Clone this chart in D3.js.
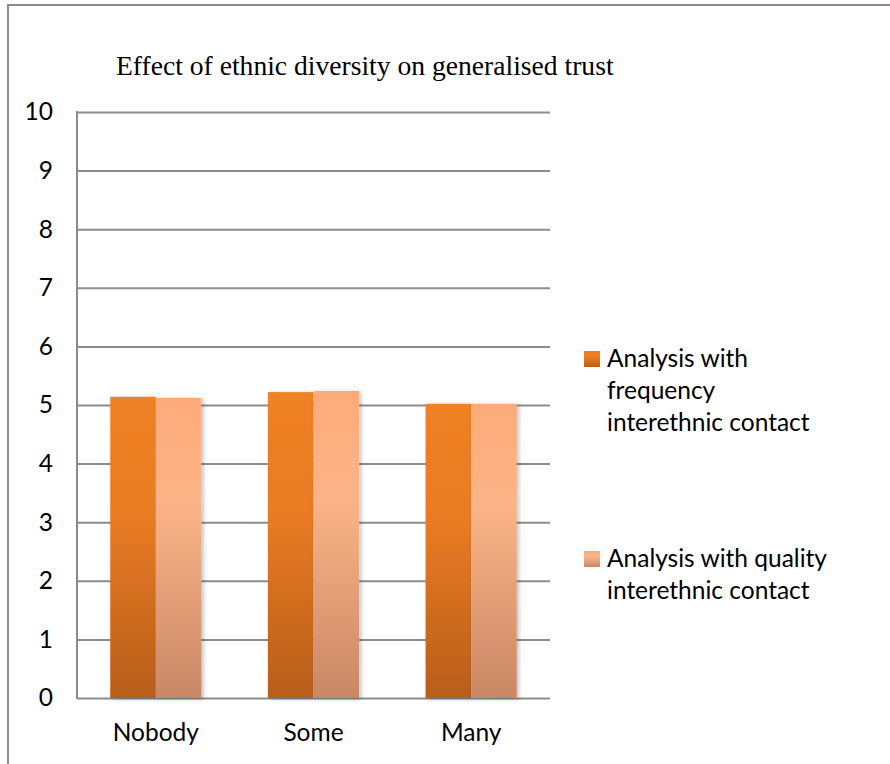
<!DOCTYPE html>
<html>
<head>
<meta charset="utf-8">
<script src="https://cdn.jsdelivr.net/npm/d3@7"></script>
<style>
  body { margin: 0; background: #fff; }
  svg { display: block; }
  .tick text { font-family: Lato, "Open Sans", sans-serif; font-size: 24.5px; fill: #000; }
  .legend text { font-family: Lato, "Open Sans", sans-serif; font-size: 24.5px; fill: #000; }
</style>
</head>
<body>
<svg id="chart"></svg>
<script>
// chart data
const categories = ["Nobody", "Some", "Many"];
const seriesNames = ["Analysis with frequency interethnic contact", "Analysis with quality interethnic contact"];
const frequencyValues = [5.14, 5.22, 5.02];
const qualityValues = [5.12, 5.24, 5.02];
const yTicks = [0, 1, 2, 3, 4, 5, 6, 7, 8, 9, 10];
const legendLines = [
    ["Analysis with", "frequency", "interethnic contact"],
    ["Analysis with quality", "interethnic contact"]
];

const svgWidth = 890, svgHeight = 764;
const plot = { left: 77, right: 550, top: 112, bottom: 698 };

const svg = d3.select("#chart")
    .attr("width", svgWidth)
    .attr("height", svgHeight);

// gradients + shadow
const defs = svg.append("defs");
const gradStops = [
    [["0%", "#ef8125"], ["40%", "#e97b22"], ["100%", "#b75e1c"]],
    [["0%", "#fdaa78"], ["35%", "#fbb487"], ["100%", "#c98765"]]
];
gradStops.forEach((stops, i) => {
    const g = defs.append("linearGradient")
        .attr("id", "grad" + i)
        .attr("x1", 0).attr("y1", 0).attr("x2", 0).attr("y2", 1);
    stops.forEach(s => g.append("stop").attr("offset", s[0]).attr("stop-color", s[1]));
});
defs.append("filter")
    .attr("id", "shadow")
    .attr("x", "-20%").attr("y", "-10%").attr("width", "140%").attr("height", "120%")
    .append("feDropShadow")
    .attr("dx", 2).attr("dy", 1).attr("stdDeviation", 2)
    .attr("flood-color", "#000").attr("flood-opacity", 0.25);

// outer frame (left + top)
svg.append("path")
    .attr("d", `M8,${svgHeight} L8,5 L${svgWidth},5`)
    .attr("fill", "none")
    .attr("stroke", "#8c8c8c")
    .attr("stroke-width", 2);

// title
svg.append("text")
    .attr("x", 116)
    .attr("y", 75)
    .style("font-family", "'Liberation Serif', 'DejaVu Serif', serif")
    .style("font-size", "27.6px")
    .text("Effect of ethnic diversity on generalised trust");

// scales
const x0 = d3.scaleBand()
    .domain(categories)
    .range([plot.left, plot.right]);

const x1 = d3.scaleBand()
    .domain(seriesNames)
    .range([0, x0.bandwidth()])
    .paddingOuter(0.73);

const y = d3.scaleLinear()
    .domain([0, 10])
    .range([plot.bottom, plot.top]);

// gridlines + y labels
const yAxis = svg.append("g")
    .attr("transform", `translate(${plot.left},0)`)
    .call(d3.axisLeft(y).tickValues(yTicks).tickSize(-(plot.right - plot.left)).tickPadding(24).tickFormat(d3.format("d")));
yAxis.select(".domain").remove();
yAxis.selectAll(".tick line")
    .attr("stroke", "#8c8c8c")
    .attr("stroke-width", 2);

// vertical axis line
svg.append("line")
    .attr("x1", plot.left).attr("x2", plot.left)
    .attr("y1", y(10) - 1).attr("y2", y(0) + 1)
    .attr("stroke", "#8c8c8c")
    .attr("stroke-width", 2);

// bars
const groups = svg.selectAll(".cat")
    .data(categories)
    .enter()
    .append("g")
    .attr("class", "cat")
    .attr("transform", d => `translate(${x0(d)},0)`);

groups.selectAll("rect")
    .data((d, i) => [frequencyValues[i], qualityValues[i]].map((v, j) => ({ key: seriesNames[j], value: v, idx: j })))
    .enter()
    .append("rect")
    .attr("x", d => x1(d.key))
    .attr("y", d => y(d.value))
    .attr("width", x1.bandwidth())
    .attr("height", d => y(0) - y(d.value))
    .attr("fill", d => `url(#grad${d.idx})`)
    .attr("filter", "url(#shadow)");

// x labels
const xAxis = svg.append("g")
    .attr("transform", `translate(0,${plot.bottom})`)
    .call(d3.axisBottom(x0).tickSize(0));
xAxis.select(".domain").remove();
xAxis.selectAll(".tick text")
    .attr("y", 43)
    .attr("dy", null);

// legend
const legendTops = [351, 551];
const legend = svg.append("g").attr("class", "legend");
seriesNames.forEach((name, i) => {
    legend.append("rect")
        .attr("x", 584)
        .attr("y", legendTops[i])
        .attr("width", 16)
        .attr("height", 16)
        .attr("fill", `url(#grad${i})`);
    const t = legend.append("text")
        .attr("x", 607)
        .attr("y", legendTops[i] + 16);
    legendLines[i].forEach((line, k) => {
        t.append("tspan")
            .attr("x", 607)
            .attr("dy", k === 0 ? 0 : 32)
            .text(line);
    });
});
</script>
</body>
</html>
